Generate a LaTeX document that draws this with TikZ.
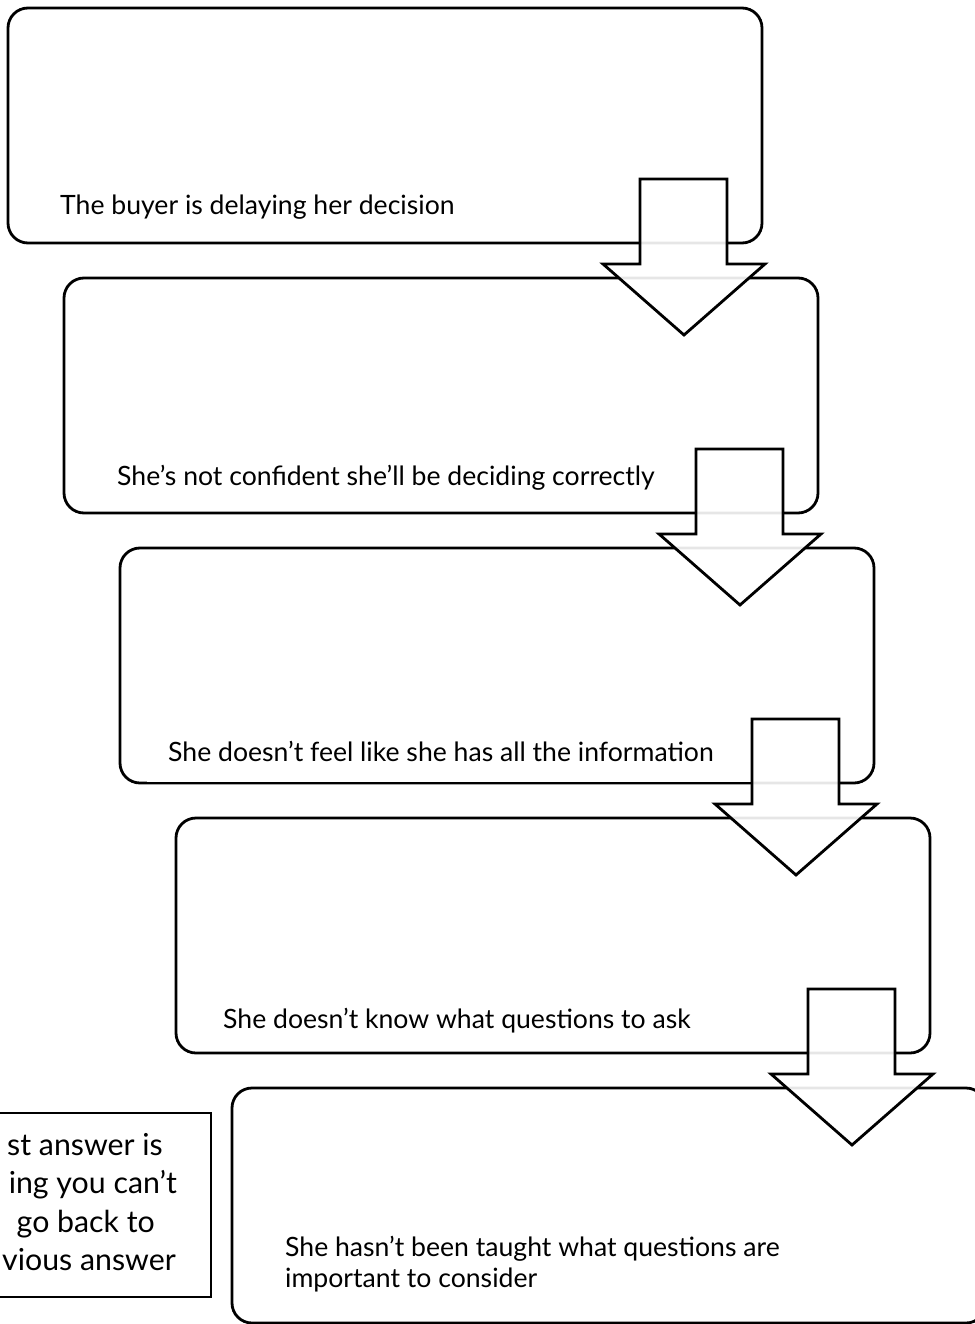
\documentclass[tikz,border=0pt]{standalone}
\usepackage{fontspec}
\setmainfont{Lato}

\begin{document}
\begin{tikzpicture}[x=1pt,y=-1pt,
  stepbox/.style={draw, rounded corners=20pt, line width=2.8pt, minimum width=754pt, minimum height=235pt, anchor=north west, inner sep=0pt, outer sep=0pt},
  steptext/.style={anchor=base west, font=\fontsize{26.6}{31}\selectfont, inner sep=0pt},
  downarrow/.style={draw, line width=2.8pt, fill=white, fill opacity=0.9, line join=miter},
  notebox/.style={draw, line width=1.2pt, minimum width=260pt, minimum height=184pt, anchor=north east, outer sep=0pt},
  notetext/.style={anchor=base east, font=\fontsize{30.3}{38}\selectfont, inner sep=0pt}]
  \useasboundingbox (0,0) rectangle (974,1324);
  % the five steps
  \foreach \i in {1,...,5}
    \node[stepbox] (b\i) at ({8+56*(\i-1)},{8+270*(\i-1)}) {};
  % white patch behind the third answer
  \fill[white] (147,722) rectangle (751,783);
  \draw[line width=1.2pt] (147,783) -- (751,783);
  \node[steptext] (t1) at (60,215) {The buyer is delaying her decision};
  \node[steptext] (t2) at (117,485) {She’s not confident she’ll be deciding correctly};
  \node[steptext] (t3) at (168,761) {She doesn’t feel like she has all the information};
  \node[steptext] (t4) at (223,1028) {She doesn’t know what questions to ask};
  \node[steptext, anchor=north west, align=left] (t5) at (285,1236) {She hasn’t been taught what questions are\\important to consider};
  % arrows between the steps
  \foreach \i in {1,...,4}
    \draw[downarrow, shift={(b\i.south east)}] (-122,-64) -- (-35,-64) -- (-35,21) -- (3,21) -- (-78,92) -- (-159,21) -- (-122,21) -- cycle;
  % note on the left
  \node[notebox] (n) at (211,1113) {};
  \node[notetext] (n1) at (163,1155) {st answer is};
  \node[notetext] (n2) at (177,1193) {ing you can’t};
  \node[notetext] (n3) at (155,1232) {go back to};
  \node[notetext] (n4) at (176,1270) {vious answer};
\end{tikzpicture}
\end{document}
